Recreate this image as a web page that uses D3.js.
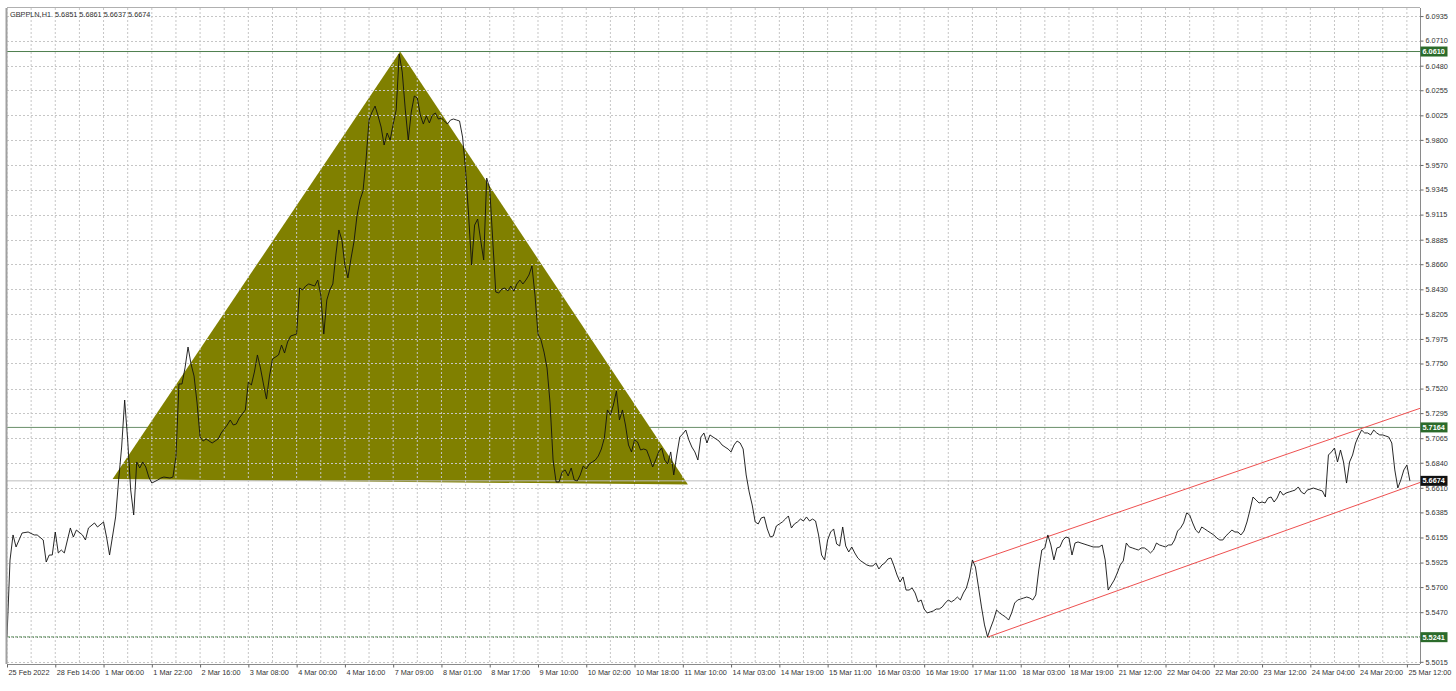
<!DOCTYPE html>
<html><head><meta charset="utf-8">
<script src="https://cdn.jsdelivr.net/npm/d3@7"></script>
<style>body{margin:0;background:#fff;} svg{display:block;font-family:"Liberation Sans",Arial,sans-serif;}</style>
</head><body><svg id="c" width="1456" height="691"></svg>
<script>
// ---------- DATA ----------
const symbolTitle = "GBPPLN,H1\u00a0\u00a05.6851 5.6861 5.6637 5.6674";
const timeLabels = ["25 Feb 2022","28 Feb 14:00","1 Mar 06:00","1 Mar 22:00","2 Mar 16:00","3 Mar 08:00","4 Mar 00:00","4 Mar 16:00","7 Mar 09:00","8 Mar 01:00","8 Mar 17:00","9 Mar 10:00","10 Mar 02:00","10 Mar 18:00","11 Mar 10:00","14 Mar 03:00","14 Mar 19:00","15 Mar 11:00","16 Mar 03:00","16 Mar 19:00","17 Mar 11:00","18 Mar 03:00","18 Mar 19:00","21 Mar 12:00","22 Mar 04:00","22 Mar 20:00","23 Mar 12:00","24 Mar 04:00","24 Mar 20:00","25 Mar 12:00"];
const barsPerLabel = 16;
const barsPerGrid = 8;
const totalBarsVisible = 468.35;
const priceTicks = [6.0935,6.0710,6.0480,6.0255,6.0025,5.9800,5.9570,5.9345,5.9115,5.8885,5.8660,5.8430,5.8205,5.7975,5.7750,5.7520,5.7295,5.7065,5.6840,5.6610,5.6385,5.6155,5.5925,5.5700,5.5470,5.5240,5.5015];
const hiddenTickLabels = [5.5240]; // covered by the 5.5241 price box in the original
const priceMin = 5.4995, priceMax = 6.1009;

// bar index (hours, weekend gaps removed) and close price
const bars = [0,1,2,3,5,7,9,10,12,13,14,15,16,17,18,19,21,22,23,25,26,27,29,30,32,33,34,36,37,38,39,40,41,42,43,44,45,46,47,48,50,51,52,54,55,56,57,
58,59,60,61,62,63,64,65,66,68,70,71,73,74,75,76,77,79,80,81,82,83,84,85,86,87,88,90,91,92,93,94,96,97,98,99,100,102,103,104,105,106,107,108,109,110,111,112,113,114,115,116,117,
118,119,120,121,122,123,124,125,126,127,128,129,130,131,132,133,134,135,136,137,138,139,140,141,142,143,144,145,146,147,148,149,150,151,152,153,154,155,156,157,158,159,160,161,
162,163,164,165,166,167,168,169,170,171,172,173,174,175,176,177,178,179,180,181,182,183,184,185,186,187,188,189,190,191,192,193,194,195,196,197,198,199,200,201,202,203,204,205,206,207,208,209,210,211,212,213,214,215,216,217,218,219,220,221,222,223,224,225,226,227,228,229,230,231,232,233,234,235,236,237,238,239,240,241,242,243,244,245,246,247,248,249,250,251,252,253,254,255,256,257,258,259,260,261,262,263,264,265,266,267,268,269,270,271,272,273,274,275,276,
277,278,279,280,281,282,283,284,285,286,287,288,289,290,291,292,293,294,295,296,297,298,299,300,301,302,303,304,305,306,307,308,309,310,311,312,313,314,315,316,317,318,
319,320,321,322,323,324,325,326,327,328,329,330,331,332,333,334,335,336,337,338,339,340,341,342,343,344,345,346,347,348,349,350,351,352,353,354,355,356,357,358,359,360,361,362,363,364,365,366,367,368,369,370,371,372,373,374,375,376,377,378,379,380,381,382,383,384,385,386,387,388,389,390,391,392,393,394,395,396,397,398,399,400,401,402,403,404,405,406,407,408,409,410,411,412,413,414,415,416,417,418,419,420,421,422,423,424,425,426,427,428,429,430,431,432,433,434,435,436,437,438,439,440,441,442,443,444,445,446,447,448,449,450,451,452,453,454,455,456,457,458,459,460,461,462,463,464,465];
const closes = [5.5245,5.5948,5.6178,5.6068,5.6196,5.6205,5.6178,5.6178,5.6132,5.5930,5.5994,5.5994,5.6205,5.6013,5.6040,5.6013,5.6242,5.6159,5.6223,5.6178,5.6132,5.6242,5.6288,5.6251,5.6297,5.6159,5.5994,5.6343,5.6682,5.6984,5.7415,5.7049,5.6590,5.6361,5.6847,5.6792,5.6847,5.6801,5.6709,5.6654,5.6682,5.6700,5.6709,5.6700,5.6709,5.6893,5.7562,
5.7562,5.7709,5.7901,5.7745,5.7635,5.7388,5.7076,5.7039,5.7058,5.7021,5.7058,5.7113,5.7186,5.7232,5.7186,5.7195,5.7250,5.7324,5.7580,5.7553,5.7672,5.7828,5.7709,5.7562,5.7424,5.7635,5.7791,5.7828,5.7919,5.7846,5.7947,5.8002,5.8020,5.8442,5.8424,5.8460,5.8479,5.8460,5.8515,5.8378,5.8020,5.8332,5.8424,5.8479,5.8744,5.8974,5.8882,5.8653,5.8534,5.8708,5.8864,5.9102,5.9249,
5.9331,5.9615,5.9982,6.0055,6.0110,6.0019,5.9918,5.9753,5.9863,5.9799,5.9945,6.0074,6.0587,6.0422,6.0083,5.9799,6.0055,6.0202,6.0184,6.0028,5.9945,6.0019,5.9955,6.0028,6.0046,5.9991,6.0000,5.9973,5.9945,5.9982,5.9991,5.9982,5.9973,5.9826,5.9524,5.9111,5.8653,5.9019,5.9074,5.8882,5.8699,5.9450,5.9358,5.8882,
5.8405,5.8396,5.8433,5.8442,5.8414,5.8460,5.8414,5.8479,5.8515,5.8479,5.8515,5.8561,5.8644,5.8378,5.8020,5.7965,5.7855,5.7709,5.7388,5.6865,5.6664,5.6664,5.6755,5.6774,5.6719,5.6792,5.6682,5.6673,5.6728,5.6810,5.6783,5.6829,5.6847,5.6865,5.6902,5.6966,5.7067,5.7324,5.7278,5.7369,5.7498,5.7232,5.7324,5.7186,5.7003,5.6939,5.7049,5.7030,5.6957,5.6966,5.6957,5.6884,5.6801,5.6865,5.6939,5.6975,5.6865,5.6829,5.6939,5.6728,5.6911,5.7076,5.7104,5.7140,5.7049,5.6984,5.6939,5.6865,5.7076,5.7113,5.7021,5.7095,5.7076,5.7058,5.7039,5.7003,5.6984,5.6966,5.6939,5.7003,5.7039,5.7021,5.6966,5.6728,5.6572,5.6453,5.6297,5.6279,5.6334,5.6343,5.6233,5.6159,5.6169,5.6260,5.6279,5.6297,5.6324,5.6352,5.6242,5.6279,5.6297,5.6324,5.6306,5.6343,5.6306,5.6324,5.6306,5.6178,5.5994,5.5949,5.6132,5.6205,5.6233,5.6095,5.6077,
5.6251,5.6077,5.6022,5.6068,5.6013,5.5967,5.5940,5.5922,5.5903,5.5894,5.5894,5.5922,5.5866,5.5903,5.5922,5.5958,5.5967,5.5894,5.5811,5.5747,5.5793,5.5673,5.5673,5.5692,5.5646,5.5564,5.5582,5.5499,5.5463,5.5472,5.5481,5.5499,5.5499,5.5518,5.5554,5.5582,5.5564,5.5582,5.5609,5.5582,5.5646,5.5692,
5.5793,5.5949,5.5884,5.5701,5.5518,5.5353,5.5245,5.5325,5.5398,5.5490,5.5463,5.5444,5.5426,5.5398,5.5463,5.5554,5.5582,5.5591,5.5600,5.5609,5.5600,5.5582,5.5628,5.5857,5.6040,5.6059,5.6178,5.6086,5.5949,5.6059,5.6068,5.6132,5.6159,5.6150,5.5994,5.6104,5.6114,5.6104,5.6095,5.6086,5.6077,5.6068,5.6068,5.6068,5.6086,5.5949,5.5673,5.5719,5.5765,5.5829,5.5903,5.5940,5.6104,5.6068,5.6059,5.6049,5.6040,5.6059,5.6059,5.6040,5.6013,5.6040,5.6104,5.6086,5.6077,5.6068,5.6086,5.6086,5.6132,5.6214,5.6242,5.6288,5.6380,5.6361,5.6288,5.6223,5.6196,5.6251,5.6233,5.6214,5.6196,5.6178,5.6150,5.6132,5.6132,5.6169,5.6196,5.6223,5.6205,5.6205,5.6178,5.6214,5.6297,5.6407,5.6526,5.6499,5.6471,5.6480,5.6471,5.6517,5.6526,5.6480,5.6517,5.6581,5.6544,5.6563,5.6572,5.6581,5.6590,5.6618,5.6572,5.6554,5.6590,5.6599,5.6608,5.6599,5.6590,5.6581,5.6526,5.6911,5.6939,5.6975,5.6847,5.6957,5.6847,5.6654,5.6847,5.6911,5.7021,5.7085,5.7140,5.7113,5.7113,5.7095,5.7140,5.7113,5.7095,5.7095,5.7085,5.7076,5.7021,5.6774,5.6609,5.6682,5.6774,5.6819,5.6674];

const triangleBars = [35, 130.3, 225.7];
const trianglePrices = [5.6690, 6.0610, 5.6640];
const levelPrices = [6.0610, 5.7164, 5.5241];
const bidPrice = 5.6674;
const channelUpperBars = [320, 468.35], channelUpperPrices = [5.5925, 5.7339];
const channelLowerBars = [325, 468.35], channelLowerPrices = [5.5241, 5.6659];

// ---------- CHART ----------
const L = 7, R = 1420, T = 8, B = 664;
const svg = d3.select("#c");
const x = d3.scaleLinear().domain([0, totalBarsVisible]).range([L, R]);
const y = d3.scaleLinear().domain([priceMin, priceMax]).range([B, T]);

svg.append("defs").append("clipPath").attr("id","clip")
  .append("rect").attr("x",L).attr("y",T).attr("width",R-L).attr("height",B-T);

const plot = svg.append("g").attr("clip-path","url(#clip)");

// level lines (under triangle)
const levelColors = ["#4f7f4f","#6a8f6a","#3f7a3f"];
levelPrices.forEach((p,i)=>{
  plot.append("line").attr("x1",L).attr("x2",R).attr("y1",y(p)).attr("y2",y(p))
    .attr("stroke",levelColors[i]).attr("stroke-width", i===2?1.4:1)
    .attr("stroke-dasharray", i===2?"3,1":null);
});

// triangle
plot.append("path")
  .attr("d", d3.line()(triangleBars.map((b,i)=>[x(b), y(trianglePrices[i])])) + "Z")
  .attr("fill","#808000");

// grid
const gridBars = d3.range(0, totalBarsVisible, barsPerGrid);
plot.append("g").selectAll("line").data(gridBars).join("line")
  .attr("x1",d=>x(d)).attr("x2",d=>x(d)).attr("y1",T).attr("y2",B)
  .attr("stroke","#c6c6c6").attr("stroke-dasharray","2,2").attr("stroke-width",1);
plot.append("g").selectAll("line").data(priceTicks).join("line")
  .attr("x1",L).attr("x2",R).attr("y1",d=>Math.round(y(d))+0.5).attr("y2",d=>Math.round(y(d))+0.5)
  .attr("stroke","#c6c6c6").attr("stroke-dasharray","2,2").attr("stroke-width",1);

// bid line
plot.append("line").attr("x1",L).attr("x2",R).attr("y1",y(bidPrice)).attr("y2",y(bidPrice))
  .attr("stroke","#bdbdbd").attr("stroke-width",1);

// channel
[[channelUpperBars,channelUpperPrices],[channelLowerBars,channelLowerPrices]].forEach(([bb,pp])=>{
  plot.append("line").attr("x1",x(bb[0])).attr("y1",y(pp[0])).attr("x2",x(bb[1])).attr("y2",y(pp[1]))
    .attr("stroke","#ee5050").attr("stroke-width",1);
});

// price line
plot.append("path")
  .attr("d", d3.line().x((d,i)=>x(bars[i])).y(d=>y(d))(closes))
  .attr("fill","none").attr("stroke","#111").attr("stroke-width",0.9);

// frame
svg.append("line").attr("x1",L-0.5).attr("x2",L-0.5).attr("y1",T).attr("y2",B).attr("stroke","#a0a0a0").attr("stroke-width",2);
svg.append("line").attr("x1",L).attr("x2",R).attr("y1",T-0.5).attr("y2",T-0.5).attr("stroke","#b0b0b0");

// axes
const fmt = d3.format(".4f");
const yAxis = d3.axisRight(y).tickValues(priceTicks).tickSize(3)
  .tickFormat(d => hiddenTickLabels.includes(d) ? "" : fmt(d));
const gy = svg.append("g").attr("transform",`translate(${R+0.5},0)`).call(yAxis);
gy.select(".domain").attr("stroke","#8a8a8a").attr("d",`M0,${T}V${B}`);
gy.selectAll(".tick line").attr("stroke","#666");
gy.selectAll(".tick text").attr("fill","#333").attr("font-size","7.3px").attr("x",5)
  .attr("font-family","'Liberation Sans',Arial,sans-serif");

const labelBars = timeLabels.map((t,i)=>i*barsPerLabel);
const xAxis = d3.axisBottom(x).tickValues(labelBars).tickSize(3).tickFormat((d,i)=>timeLabels[i]);
const gx = svg.append("g").attr("transform",`translate(0,${B+0.5})`).call(xAxis);
gx.select(".domain").attr("stroke","#8a8a8a").attr("d",`M${L},0H${R}`);
gx.selectAll(".tick line").attr("stroke","#666");
gx.selectAll(".tick text").attr("fill","#333").attr("font-size","7.3px").attr("text-anchor","start")
  .attr("x",1).attr("y",5).attr("font-family","'Liberation Sans',Arial,sans-serif");

// title
svg.append("text").attr("x",10).attr("y",17).attr("font-size","7.3px").attr("fill","#333").text(symbolTitle);

// price boxes
const boxes = [[levelPrices[0],"#2b6b2b"],[levelPrices[1],"#2b6b2b"],[bidPrice,"#111111"],[levelPrices[2],"#2b6b2b"]];
boxes.forEach(([p,c])=>{
  const yy = y(p);
  svg.append("rect").attr("x",R+0.5).attr("y",yy-5).attr("width",27).attr("height",10).attr("fill",c);
  svg.append("text").attr("x",R+2.5).attr("y",yy+2.6).attr("font-size","7.3px").attr("fill","#fff")
    .attr("font-weight","bold").text(fmt(p));
});
</script></body></html>
